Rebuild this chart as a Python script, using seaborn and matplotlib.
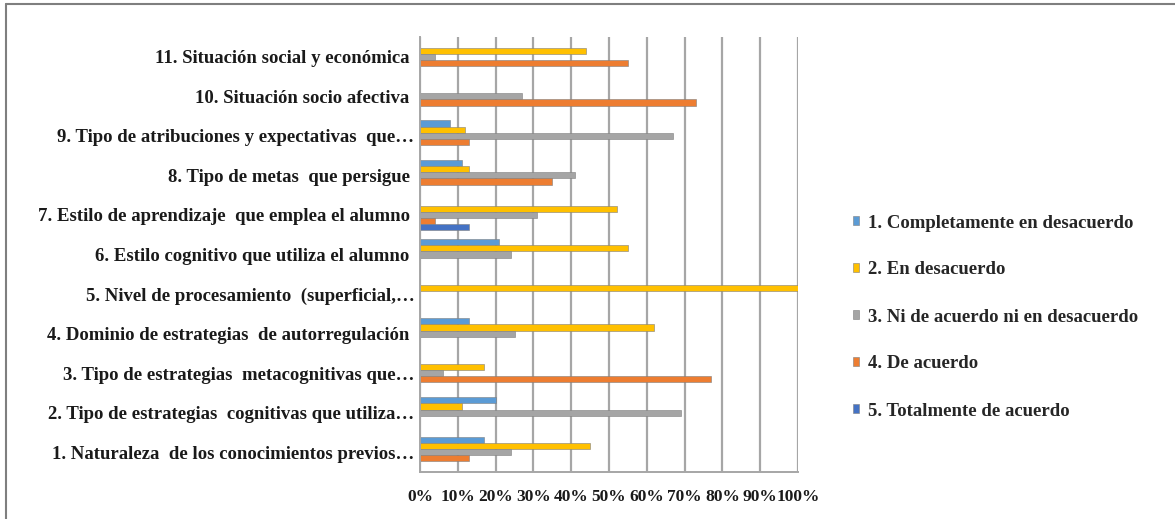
import matplotlib
matplotlib.use("Agg")
import matplotlib.pyplot as plt
from matplotlib.lines import Line2D
from matplotlib.ticker import PercentFormatter, FixedLocator
import numpy as np
import pandas as pd
import seaborn as sns

# Items evaluated (1 = bottom row of the chart, 11 = top row)
categories = [
    "1. Naturaleza  de los conocimientos previos\u2026",
    "2. Tipo de estrategias  cognitivas que utiliza\u2026",
    "3. Tipo de estrategias  metacognitivas que\u2026",
    "4. Dominio de estrategias  de autorregulación ",
    "5. Nivel de procesamiento  (superficial,\u2026",
    "6. Estilo cognitivo que utiliza el alumno ",
    "7. Estilo de aprendizaje  que emplea el alumno ",
    "8. Tipo de metas  que persigue ",
    "9. Tipo de atribuciones y expectativas  que\u2026",
    "10. Situación socio afectiva ",
    "11. Situación social y económica ",
]

series_names = [
    "1. Completamente en desacuerdo",
    "2. En desacuerdo",
    "3. Ni de acuerdo ni en desacuerdo",
    "4. De acuerdo",
    "5. Totalmente de acuerdo",
]

# Percentages per answer option, listed for items 1..11
completamente_desacuerdo = [17, 20, 0, 13, 0, 21, 0, 11, 8, 0, 0]
en_desacuerdo = [45, 11, 17, 62, 100, 55, 52, 13, 12, 0, 44]
ni_acuerdo_ni_desacuerdo = [24, 69, 6, 25, 0, 24, 31, 41, 67, 27, 4]
de_acuerdo = [13, 0, 77, 0, 0, 0, 4, 35, 13, 73, 55]
totalmente_acuerdo = [0, 0, 0, 0, 0, 0, 13, 0, 0, 0, 0]

series_values = [
    completamente_desacuerdo,
    en_desacuerdo,
    ni_acuerdo_ni_desacuerdo,
    de_acuerdo,
    totalmente_acuerdo,
]

colors = ["#5B9BD5", "#FFC000", "#A5A5A5", "#ED7D31", "#4472C4"]

rows = []
for name, vals in zip(series_names, series_values):
    for cat, v in zip(categories, vals):
        rows.append({"item": cat, "respuesta": name, "pct": v})
df = pd.DataFrame(rows)

sns.set_style("white")
plt.rcParams["font.family"] = ["Liberation Serif", "DejaVu Serif"]
plt.rcParams["font.weight"] = "bold"

fig = plt.figure(figsize=(11.75, 5.19), dpi=100)
ax = fig.add_axes([420 / 1175, 1 - 472 / 519, 378 / 1175, (472 - 37) / 519])

order = categories[::-1]
sns.barplot(
    data=df, x="pct", y="item", hue="respuesta",
    order=order, hue_order=series_names, palette=colors,
    orient="h", width=0.78, ax=ax, legend=True,
    edgecolor="#7f7f7f", linewidth=0.4, saturation=1,
)

ax.set_xlim(0, 100)
ax.set_xticks(np.arange(0, 101, 10))
ax.xaxis.set_major_formatter(PercentFormatter(100, decimals=0))
ax.set_xlabel("")
ax.set_ylabel("")

# Vertical gridlines every 10 %
ax.grid(axis="x", color="#a6a6a6", linewidth=1.6)
ax.grid(axis="y", visible=False)
ax.set_axisbelow(True)

# Category tick marks sit between groups, labels at group centres
n = len(categories)
ax.yaxis.set_minor_locator(FixedLocator(np.arange(-0.5, n, 1.0)))
ax.tick_params(axis="y", which="major", length=0, pad=4, labelsize=13.5)
ax.tick_params(axis="y", which="minor", length=4, color="#808080", width=1)
ax.tick_params(axis="x", which="major", length=4, color="#808080", width=1,
               labelsize=12.5, pad=8)
ax.set_ylim(n - 0.5, -0.5)

for side in ["top", "right"]:
    ax.spines[side].set_visible(False)
for side in ["left", "bottom"]:
    ax.spines[side].set_color("#a6a6a6")
    ax.spines[side].set_linewidth(1.4)

for lab in ax.get_yticklabels() + ax.get_xticklabels():
    lab.set_fontweight("bold")
    lab.set_color("#1a1a1a")

handles, labels = ax.get_legend_handles_labels()
ax.get_legend().remove()
fig.legend(
    handles, labels, loc="center left",
    bbox_to_anchor=(836 / 1175, 1 - 317 / 519),
    frameon=False, prop={"family": "Liberation Serif", "weight": "bold", "size": 13.5},
    handlelength=0.35, handleheight=0.35, handletextpad=0.45, labelspacing=1.6,
)

# Outer frame of the chart area
fig.add_artist(Line2D([6 / 1175, 6 / 1175], [0, 1 - 4 / 519],
                      transform=fig.transFigure, color="#7f7f7f", linewidth=1.5))
fig.add_artist(Line2D([6 / 1175, 1], [1 - 4 / 519, 1 - 4 / 519],
                      transform=fig.transFigure, color="#7f7f7f", linewidth=1.5))

fig.savefig("out.png", dpi=100)
